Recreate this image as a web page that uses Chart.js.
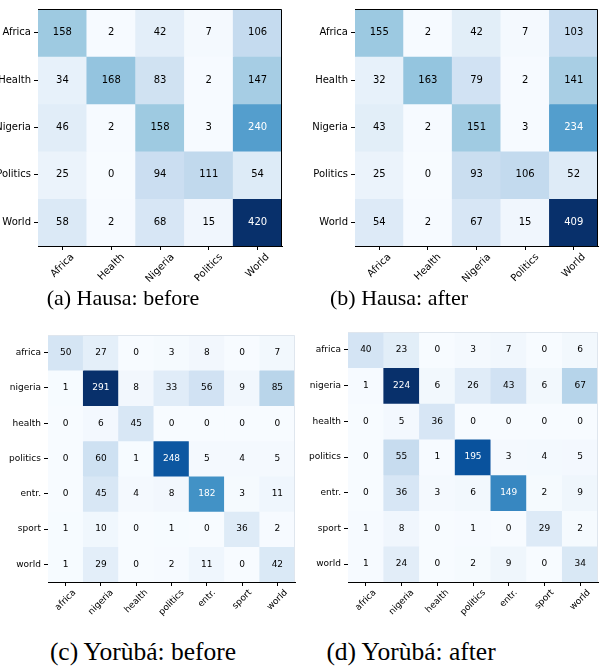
<!DOCTYPE html>
<html>
<head>
<meta charset="utf-8">
<script src="https://cdn.jsdelivr.net/npm/chart.js@4"></script>
<style>
    body { margin: 0; background: #fff; }
    #page { position: relative; width: 600px; height: 666px; overflow: hidden; }
    .panel { position: absolute; }
    .caption {
        position: absolute;
        font-family: "Liberation Serif", "Times New Roman", serif;
        color: #000;
        white-space: nowrap;
        transform: translate(-50%, -50%);
    }
</style>
</head>
<body>
<div id="page">
    <canvas id="chart-a" class="panel" style="left:0px;top:0px"></canvas>
    <canvas id="chart-b" class="panel" style="left:300px;top:0px"></canvas>
    <canvas id="chart-c" class="panel" style="left:0px;top:320px"></canvas>
    <canvas id="chart-d" class="panel" style="left:300px;top:320px"></canvas>
    <div class="caption" style="left:123px;top:298px;font-size:22px">(a) Hausa: before</div>
    <div class="caption" style="left:399px;top:298px;font-size:22px">(b) Hausa: after</div>
    <div class="caption" style="left:143px;top:652px;font-size:25.5px">(c) Yorùbá: before</div>
    <div class="caption" style="left:411px;top:652px;font-size:25.5px">(d) Yorùbá: after</div>
</div>
<script>
// Class labels
const hausaLabels = ['Africa', 'Health', 'Nigeria', 'Politics', 'World'];
const yorubaLabels = ['africa', 'nigeria', 'health', 'politics', 'entr.', 'sport', 'world'];

// Confusion matrices (rows = true class, columns = predicted class)
const hausaBefore = [
    [158, 2, 42, 7, 106],
    [34, 168, 83, 2, 147],
    [46, 2, 158, 3, 240],
    [25, 0, 94, 111, 54],
    [58, 2, 68, 15, 420]
];
const hausaAfter = [
    [155, 2, 42, 7, 103],
    [32, 163, 79, 2, 141],
    [43, 2, 151, 3, 234],
    [25, 0, 93, 106, 52],
    [54, 2, 67, 15, 409]
];
const yorubaBefore = [
    [50, 27, 0, 3, 8, 0, 7],
    [1, 291, 8, 33, 56, 9, 85],
    [0, 6, 45, 0, 0, 0, 0],
    [0, 60, 1, 248, 5, 4, 5],
    [0, 45, 4, 8, 182, 3, 11],
    [1, 10, 0, 1, 0, 36, 2],
    [1, 29, 0, 2, 11, 0, 42]
];
const yorubaAfter = [
    [40, 23, 0, 3, 7, 0, 6],
    [1, 224, 6, 26, 43, 6, 67],
    [0, 5, 36, 0, 0, 0, 0],
    [0, 55, 1, 195, 3, 4, 5],
    [0, 36, 3, 6, 149, 2, 9],
    [1, 8, 0, 1, 0, 29, 2],
    [1, 24, 0, 2, 9, 0, 34]
];

// matplotlib "Blues" colormap stops
const BLUES = ['#f7fbff', '#deebf7', '#c6dbef', '#9ecae1', '#6baed6',
               '#4292c6', '#2171b5', '#08519c', '#08306b'];

function hexToRgb(h) {
    return [parseInt(h.slice(1, 3), 16), parseInt(h.slice(3, 5), 16), parseInt(h.slice(5, 7), 16)];
}

function blues(t) {
    t = Math.max(0, Math.min(1, t));
    const pos = t * (BLUES.length - 1);
    const i = Math.min(Math.floor(pos), BLUES.length - 2);
    const f = pos - i;
    const a = hexToRgb(BLUES[i]);
    const b = hexToRgb(BLUES[i + 1]);
    const c = a.map((v, k) => Math.round(v + (b[k] - v) * f));
    return 'rgb(' + c.join(',') + ')';
}

// Writes the count in the middle of each cell
const cellText = {
    id: 'cellText',
    afterDatasetsDraw(chart, args, opts) {
        const ctx = chart.ctx;
        const matrix = opts.matrix;
        const max = Math.max(...matrix.flat());
        ctx.save();
        ctx.font = opts.fontSize + 'px "DejaVu Sans"';
        ctx.textAlign = 'center';
        ctx.textBaseline = 'middle';
        chart.data.datasets.forEach((ds, i) => {
            chart.getDatasetMeta(i).data.forEach((bar, j) => {
                const v = matrix[i][j];
                ctx.fillStyle = v > max / 2 ? '#fff' : '#000';
                ctx.fillText(String(v), bar.x, (bar.y + bar.base) / 2);
            });
        });
        ctx.restore();
    }
};

// Top / right spines, plus x labels rotated 45deg and centred under each tick
const frame = {
    id: 'frame',
    afterDraw(chart, args, opts) {
        const a = chart.chartArea;
        const ctx = chart.ctx;
        ctx.save();
        ctx.strokeStyle = opts.color;
        ctx.lineWidth = 1;
        ctx.beginPath();
        ctx.moveTo(a.left, a.top + 0.5);
        ctx.lineTo(a.right - 0.5, a.top + 0.5);
        ctx.lineTo(a.right - 0.5, a.bottom);
        ctx.stroke();

        const xs = chart.scales.x;
        const fh = opts.fontSize;
        ctx.font = fh + 'px "DejaVu Sans"';
        ctx.fillStyle = '#000';
        ctx.textAlign = 'center';
        ctx.textBaseline = 'middle';
        chart.data.labels.forEach((lab, i) => {
            const w = ctx.measureText(lab).width;
            const ext = (w + fh) * Math.SQRT1_2;
            const x = xs.getPixelForTick(i);
            const y = a.bottom + 6 + ext / 2;
            ctx.save();
            ctx.translate(x, y);
            ctx.rotate(-Math.PI / 4);
            ctx.fillText(lab, 0, 0);
            ctx.restore();
        });
        ctx.restore();
    }
};

function renderMatrix(id, labels, matrix, cfg) {
    const canvas = document.getElementById(id);
    canvas.width = cfg.width;
    canvas.height = cfg.height;
    const n = labels.length;
    const max = Math.max(...matrix.flat());

    const datasets = matrix.map((row, r) => ({
        data: row.map(() => [r - 0.5, r + 0.5]),
        backgroundColor: row.map(v => blues(v / max)),
        borderWidth: 0,
        barPercentage: 1,
        categoryPercentage: 1,
        grouped: false
    }));

    return new Chart(canvas, {
        type: 'bar',
        data: { labels: labels, datasets: datasets },
        options: {
            responsive: false,
            animation: false,
            layout: { padding: { top: cfg.top, right: cfg.right, left: 0, bottom: 0 } },
            scales: {
                x: {
                    afterFit: s => { s.height = cfg.xHeight; },
                    grid: { display: true, offset: false, drawOnChartArea: false, drawTicks: true, tickLength: 4, color: '#000' },
                    border: { display: true, color: '#000', width: 1 },
                    ticks: { display: false }
                },
                y: {
                    type: 'linear',
                    min: -0.5,
                    max: n - 0.5,
                    reverse: true,
                    afterFit: s => { s.width = cfg.yWidth; },
                    afterBuildTicks: s => { s.ticks = labels.map((_, i) => ({ value: i })); },
                    grid: { display: true, drawOnChartArea: false, drawTicks: true, tickLength: 4, color: '#000' },
                    border: { display: true, color: '#000', width: 1 },
                    ticks: {
                        autoSkip: false, padding: 3, color: '#000',
                        font: { family: 'DejaVu Sans', size: cfg.fontSize },
                        callback: v => labels[v]
                    }
                }
            },
            plugins: {
                legend: { display: false },
                tooltip: { enabled: false },
                cellText: { matrix: matrix, fontSize: cfg.fontSize },
                frame: { color: cfg.frameColor, fontSize: cfg.fontSize }
            }
        },
        plugins: [cellText, frame]
    });
}

renderMatrix('chart-a', hausaLabels, hausaBefore,
    { width: 290, height: 290, top: 2, right: 8, yWidth: 38, xHeight: 44, frameColor: '#000', fontSize: 10 });
renderMatrix('chart-b', hausaLabels, hausaAfter,
    { width: 300, height: 290, top: 1, right: 2, yWidth: 55, xHeight: 44, frameColor: '#000', fontSize: 10 });
renderMatrix('chart-c', yorubaLabels, yorubaBefore,
    { width: 300, height: 300, top: 15, right: 5, yWidth: 48, xHeight: 38, frameColor: '#dfe6ee', fontSize: 9 });
renderMatrix('chart-d', yorubaLabels, yorubaAfter,
    { width: 300, height: 300, top: 12, right: 2, yWidth: 48, xHeight: 38, frameColor: '#dfe6ee', fontSize: 9 });
</script>
</body>
</html>
